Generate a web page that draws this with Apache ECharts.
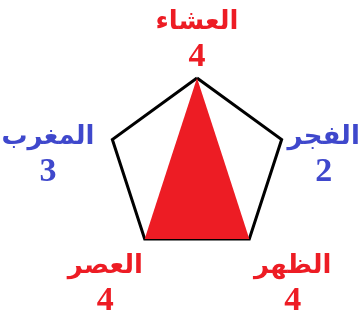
<!DOCTYPE html>
<html>
<head>
<meta charset="utf-8">
<script src="https://cdn.jsdelivr.net/npm/echarts@6/dist/echarts.min.js"></script>
<style>
  html, body { margin: 0; padding: 0; background: #fff; }
  #main { width: 359px; height: 320px; }
</style>
</head>
<body>
<div id="main"></div>
<script>
// indicators, counter-clockwise from the top
var names = ['العشاء', 'المغرب', 'العصر', 'الظهر', 'الفجر'];
var counts = [4, 3, 4, 4, 2];
var highlighted = [true, false, true, true, false];
// filled shape (left/right points sit on the triangle edges)
var fillValues = [4, 1.24, 4, 4, 1.24];
var maxValue = 4;

var RED = '#ED1C24';
var BLUE = '#3F48CC';
var FONT = 'Liberation Serif, DejaVu Sans, serif';

// label nudges per indicator: [top, right, bottom, left] padding
var labelPad = [
    [0, 0, 0, 0],
    [34, 15, 0, 0],
    [85, 0, 0, 0],
    [85, 0, 0, 3],
    [34, 0, 0, 3]
];

var chartDom = document.getElementById('main');
var myChart = echarts.init(chartDom, null, { renderer: 'canvas' });

var indicators = names.map(function (n) {
    return { name: n, max: maxValue, min: 0 };
});

function buildRich() {
    var rich = {};
    names.forEach(function (n, i) {
        var color = highlighted[i] ? RED : BLUE;
        var p = labelPad[i];
        rich['n' + i] = {
            color: color, fontFamily: FONT, fontWeight: 'bold', fontSize: 26,
            align: 'center', lineHeight: 34 + p[0],
            padding: [p[0], p[1], 0, p[3]]
        };
        rich['v' + i] = {
            color: color, fontFamily: FONT, fontWeight: 'bold', fontSize: 34,
            align: 'center', lineHeight: 36,
            padding: [0, p[1], 0, p[3]]
        };
    });
    return rich;
}

var option = {
    animation: false,
    radar: {
        center: [197, 167],
        radius: 89,
        splitNumber: 1,
        indicator: indicators,
        shape: 'polygon',
        nameGap: 3,
        axisName: {
            formatter: function (name) {
                var i = names.indexOf(name);
                return '{n' + i + '|' + name + '}\n{v' + i + '|' + counts[i] + '}';
            },
            rich: buildRich()
        },
        axisLine: { show: false },
        axisTick: { show: false },
        splitArea: { show: false },
        splitLine: { lineStyle: { color: '#000', width: 3 } }
    },
    series: [{
        type: 'radar',
        symbol: 'none',
        lineStyle: { width: 0 },
        areaStyle: { color: RED, opacity: 1 },
        data: [{ value: fillValues }]
    }]
};

myChart.setOption(option);

window.addEventListener('resize', function () {
    myChart.resize();
});
</script>
</body>
</html>
